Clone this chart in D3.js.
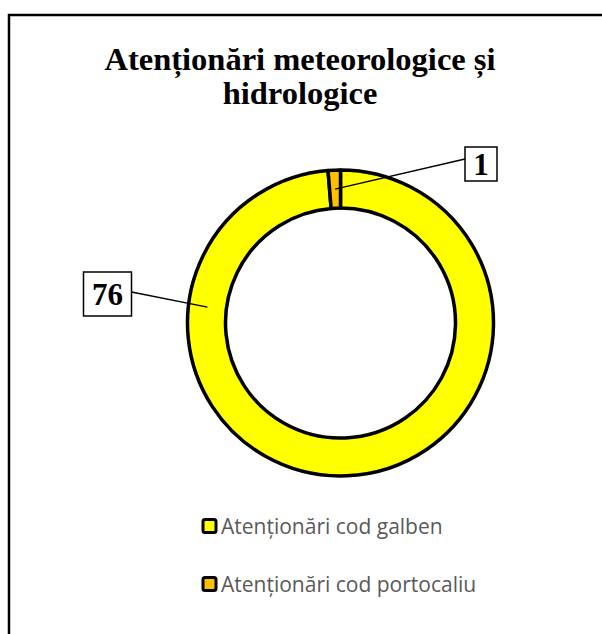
<!DOCTYPE html>
<meta charset="utf-8">
<style>* {padding:0; margin:0; border: 0; outline: 0;} body {background:#fff;}</style>
<body>
<script src="https://cdn.jsdelivr.net/npm/d3@7"></script>
<script>
categories = ["Atenționări cod galben", "Atenționări cod portocaliu"]
values = [76, 1]
colors = ["#FFFF00", "#FFC000"]
titleLines = ["Atenționări meteorologice și", "hidrologice"]

width = 602
height = 634
cx = 340.5
cy = 323
outerR = 153
innerR = 115

svg = d3.select('body')
        .append('svg')
          .attr('width', width)
          .attr('height', height)

// chart frame (right and bottom fall outside the picture)
svg.append('rect')
  .attr('x', 9).attr('y', 15)
  .attr('width', 700).attr('height', 700)
  .style('fill', 'none')
  .style('stroke', '#000')
  .style('stroke-width', 2.5)

svg.selectAll('text.title')
  .data(titleLines)
.enter().append('text')
  .attr('class', 'title')
  .attr('x', 300)
  .attr('y', function(d, i){return 70 + i * 34})
  .attr('text-anchor', 'middle')
  .style('font-family', '"Liberation Serif", "Times New Roman", serif')
  .style('font-weight', 'bold')
  .style('font-size', '32.5px')
  .text(function(d){return d})

pie = d3.pie().sort(null).value(function(d){return d})
arcs = pie(values)
arc = d3.arc().innerRadius(innerR).outerRadius(outerR)

g = svg.append('g').attr('transform', 'translate(' + cx + ',' + cy + ')')

g.selectAll('path')
  .data(arcs)
.enter().append('path')
  .attr('d', arc)
  .style('fill', function(d, i){return colors[i]})
  .style('stroke', '#000')
  .style('stroke-width', 3.5)
  .style('stroke-linejoin', 'round')

// data labels: anchor angle inside ring, box position relative to centre
midR = (innerR + outerR) / 2
labels = [
  {angle: -83.2, bx: -257, by: -51, bw: 48, bh: 44, side: 'right'},
  {angle: null, bx: 124.5, by: -176, bw: 32, bh: 34, side: 'left'}
]

labels.forEach(function(l, i){
  var a = l.angle === null ? (arcs[i].startAngle + arcs[i].endAngle) / 2 : l.angle * Math.PI / 180
  var px = midR * Math.sin(a), py = -midR * Math.cos(a)
  var lx = l.side === 'right' ? l.bx + l.bw : l.bx
  var ly = l.by + l.bh / 2 - (l.side === 'left' ? 5 : 2)
  g.append('line')
    .attr('x1', px).attr('y1', py)
    .attr('x2', lx).attr('y2', ly)
    .style('stroke', '#000')
    .style('stroke-width', 1.5)
  g.append('rect')
    .attr('x', l.bx).attr('y', l.by)
    .attr('width', l.bw).attr('height', l.bh)
    .style('fill', '#fff')
    .style('stroke', '#000')
    .style('stroke-width', 1.5)
  g.append('text')
    .attr('x', l.bx + l.bw / 2)
    .attr('y', l.by + l.bh / 2 + 11)
    .attr('text-anchor', 'middle')
    .style('font-family', '"Liberation Serif", "Times New Roman", serif')
    .style('font-weight', 'bold')
    .style('font-size', '31px')
    .text(values[i])
})

legend = svg.selectAll('g.legend')
  .data(categories)
.enter().append('g')
  .attr('class', 'legend')
  .attr('transform', function(d, i){return 'translate(203,' + (526 + i * 58) + ')'})

legend.append('rect')
  .attr('x', 0).attr('y', -6.5)
  .attr('width', 13).attr('height', 13)
  .attr('rx', 2)
  .style('fill', function(d, i){return colors[i]})
  .style('stroke', '#000')
  .style('stroke-width', 3)

legend.append('text')
  .attr('x', 18)
  .attr('y', 7.5)
  .style('font-family', '"Open Sans", sans-serif')
  .style('font-size', '21px')
  .style('fill', '#595959')
  .text(function(d){return d})
</script>
